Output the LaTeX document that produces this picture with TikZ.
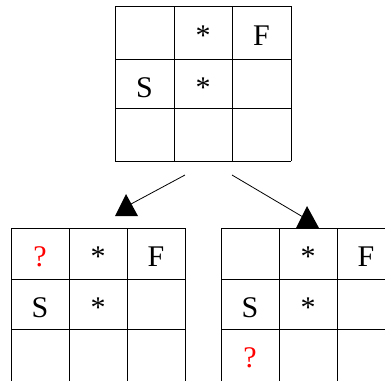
\documentclass[tikz,border=0pt]{standalone}
\usepackage{fontspec}
\setmainfont{Liberation Serif}
\begin{document}
\begin{tikzpicture}[x=0.75pt,y=-0.75pt,
  gridline/.style={line width=0.75pt},
  lbl/.style={anchor=base,inner sep=0pt,font=\fontsize{22.5}{27}\selectfont},
  qlbl/.style={lbl,text=red},
  conn/.style={line width=0.6pt},
  tip/.style={fill=black}]
\useasboundingbox (0,0) rectangle (385,380);
\clip (0,0) rectangle (385,380);
% top grid
\foreach \x in {115,174,232,291} \draw[gridline] (\x,6) -- (\x,161);
\foreach \y in {6,59,108,161} \draw[gridline] (115,\y) -- (291,\y);
\node[lbl] (t12) at (203,45) {*};
\node[lbl] (t13) at (261.5,45) {F};
\node[lbl] (t21) at (144.5,97) {S};
\node[lbl] (t22) at (203,97) {*};
% bottom-left grid
\foreach \x in {11,69,127,185} \draw[gridline] (\x,228) -- (\x,400);
\foreach \y in {228,279,329} \draw[gridline] (11,\y) -- (185,\y);
\node[qlbl] (l11) at (40,266) {?};
\node[lbl] (l12) at (98,266) {*};
\node[lbl] (l13) at (156,266) {F};
\node[lbl] (l21) at (40,317) {S};
\node[lbl] (l22) at (98,317) {*};
% bottom-right grid
\foreach \x in {221,279,337,395} \draw[gridline] (\x,228) -- (\x,400);
\foreach \y in {228,279,329} \draw[gridline] (221,\y) -- (395,\y);
\node[lbl] (r12) at (308,266) {*};
\node[lbl] (r13) at (366,266) {F};
\node[lbl] (r21) at (250,317) {S};
\node[lbl] (r22) at (308,317) {*};
\node[qlbl] (r31) at (250,367) {?};
% connectors
\coordinate (la) at (185,175);
\coordinate (lb) at (131,204);
\coordinate (ra) at (232,175);
\coordinate (rb) at (303,217);
\draw[conn] (la) -- (lb);
\draw[conn] (ra) -- (rb);
\fill[tip] (126,194) -- (138,216) -- (115,216) -- cycle;
\fill[tip] (307,206) -- (319,228) -- (296,228) -- cycle;
\end{tikzpicture}
\end{document}
